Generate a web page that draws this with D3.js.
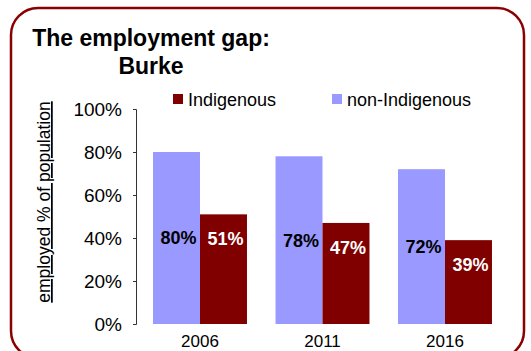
<!DOCTYPE html>
<html>
<head>
<meta charset="utf-8">
<script src="https://cdn.jsdelivr.net/npm/d3@7"></script>
<style>
  html, body { margin: 0; padding: 0; background: #fff; }
  svg { display: block; font-family: "Liberation Sans", Arial, Helvetica, sans-serif; }
</style>
</head>
<body>
<svg id="chart" width="531" height="351"></svg>
<script>
// Employment rates (share of population employed), Burke
const years = ["2006", "2011", "2016"];
const seriesNames = ["non-Indigenous", "Indigenous"];
const nonIndigenous = [0.80, 0.78, 0.72];
const indigenous = [0.51, 0.47, 0.39];
const yTicks = [0, 0.2, 0.4, 0.6, 0.8, 1.0];
const legendOrder = ["Indigenous", "non-Indigenous"];

const colors = { "non-Indigenous": "#9999FF", "Indigenous": "#800000" };
const labelColors = { "non-Indigenous": "#000", "Indigenous": "#fff" };

const svg = d3.select("#chart");

// rounded frame
svg.append("rect")
  .attr("x", 11).attr("y", 8)
  .attr("width", 513).attr("height", 350)
  .attr("rx", 27).attr("ry", 27)
  .attr("fill", "#fff")
  .attr("stroke", "#8B0000")
  .attr("stroke-width", 2.5);

// title
const title = svg.append("text")
  .attr("text-anchor", "middle")
  .attr("font-weight", "bold")
  .attr("font-size", 23)
  .attr("fill", "#000");
title.append("tspan").attr("x", 151).attr("y", 46).text("The employment gap:");
title.append("tspan").attr("x", 151).attr("y", 74).text("Burke");

// scales
const y = d3.scaleLinear().domain([0, 1]).range([324, 109]);
const x0 = d3.scaleBand().domain(years).range([138.75, 506.25])
  .paddingInner(0.233).paddingOuter(0.1165);
const x1 = d3.scaleBand().domain(seriesNames).range([0, x0.bandwidth()]);

// y axis
const yAxis = d3.axisLeft(y)
  .tickValues(yTicks)
  .tickFormat(d3.format(".0%"))
  .tickSize(3)
  .tickSizeOuter(3)
  .tickPadding(11);
const gy = svg.append("g").attr("transform", "translate(136,0)").call(yAxis);
gy.select(".domain").attr("stroke", "#333").attr("stroke-width", 1);
gy.selectAll(".tick line").attr("stroke", "#333");
gy.selectAll(".tick text")
  .attr("font-size", 19)
  .attr("fill", "#000")
  .attr("font-family", "'Liberation Sans', Arial, sans-serif");

// y axis title
svg.append("text")
  .attr("transform", "translate(50,202) rotate(-90)")
  .attr("text-anchor", "middle")
  .attr("font-size", 17.5)
  .attr("fill", "#000")
  .style("text-decoration", "underline")
  .text("employed % of population");

// bars
const rows = years.map((yr, i) => ({
  year: yr,
  values: [
    { key: "non-Indigenous", value: nonIndigenous[i] },
    { key: "Indigenous", value: indigenous[i] }
  ]
}));

const groups = svg.append("g").selectAll("g")
  .data(rows).join("g")
  .attr("transform", d => `translate(${x0(d.year)},0)`);

groups.selectAll("rect")
  .data(d => d.values).join("rect")
  .attr("x", d => x1(d.key))
  .attr("y", d => y(d.value))
  .attr("width", x1.bandwidth())
  .attr("height", d => y(0) - y(d.value))
  .attr("fill", d => colors[d.key]);

// value labels: centred for non-Indigenous, just inside the top for Indigenous
groups.selectAll("text")
  .data(d => d.values).join("text")
  .attr("x", d => x1(d.key) + x1.bandwidth() / 2 + 2)
  .attr("y", d => d.key === "non-Indigenous"
      ? (y(d.value) + y(0)) / 2
      : y(d.value) + 24.5)
  .attr("dy", "0.36em")
  .attr("text-anchor", "middle")
  .attr("font-weight", "bold")
  .attr("font-size", 18)
  .attr("fill", d => labelColors[d.key])
  .text(d => d3.format(".0%")(d.value));

// category labels
svg.append("g").selectAll("text")
  .data(years).join("text")
  .attr("x", d => x0(d) + x0.bandwidth() / 2)
  .attr("y", 347)
  .attr("text-anchor", "middle")
  .attr("font-size", 17)
  .attr("fill", "#000")
  .text(d => d);

// legend
const legendX = { "Indigenous": 173, "non-Indigenous": 332 };
const lg = svg.append("g").selectAll("g")
  .data(legendOrder).join("g")
  .attr("transform", d => `translate(${legendX[d]},94)`);
lg.append("rect")
  .attr("width", 10).attr("height", 10)
  .attr("fill", d => colors[d]);
lg.append("text")
  .attr("x", 15).attr("y", 11.5)
  .attr("font-size", 18)
  .attr("font-family", "'Liberation Sans Narrow', 'Arial Narrow', 'Liberation Sans', sans-serif")
  .style("font-stretch", "condensed")
  .attr("fill", "#000")
  .text(d => d);
</script>
</body>
</html>
